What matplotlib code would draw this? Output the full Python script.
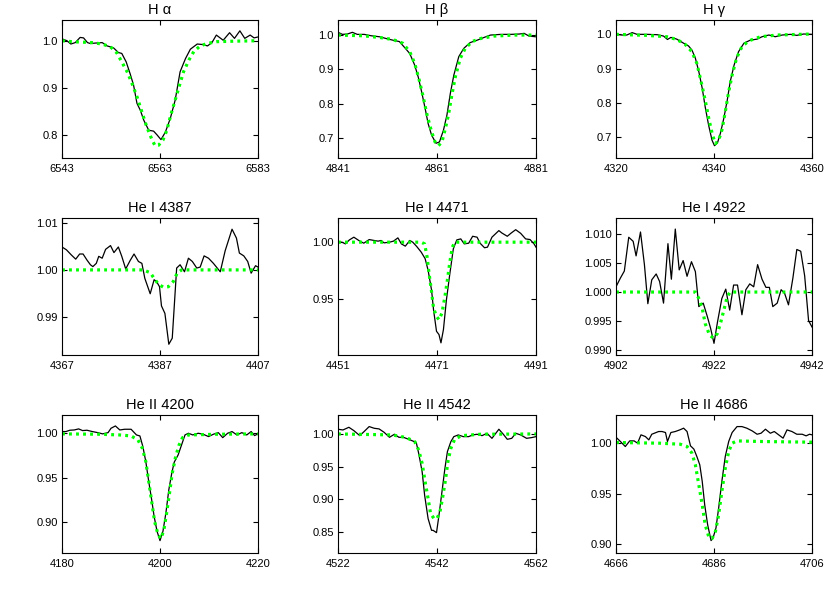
import matplotlib
matplotlib.use('Agg')
import matplotlib.pyplot as plt
from matplotlib.ticker import FormatStrFormatter

plt.rcParams['font.family'] = ['Liberation Sans', 'DejaVu Sans']

TITLES = ['H α', 'H β', 'H γ',
          'He I 4387', 'He I 4471', 'He I 4922',
          'He II 4200', 'He II 4542', 'He II 4686']
CENTERS = [6563, 4861, 4340, 4387, 4471, 4922, 4200, 4542, 4686]

ha_obs_x = [6543.0, 6544.0, 6544.8, 6545.7, 6546.7, 6547.4, 6548.2, 6548.8, 6549.8, 6551.2, 6552.2, 6553.5,
            6554.5, 6555.2, 6556.1, 6556.9, 6557.6, 6558.3, 6559.0, 6559.7, 6560.7, 6561.7, 6562.4, 6563.2,
            6564.1, 6565.1, 6566.1, 6567.1, 6568.2, 6569.2, 6570.6, 6571.6, 6572.7, 6573.6, 6574.5, 6575.9,
            6577.2, 6578.2, 6579.3, 6580.3, 6581.4, 6582.2, 6583.0]
ha_obs_y = [1.004, 1.000, 0.993, 0.996, 1.007, 1.006, 0.996, 0.994, 0.995, 0.996, 0.989, 0.985,
            0.975, 0.973, 0.955, 0.930, 0.906, 0.867, 0.852, 0.831, 0.810, 0.808, 0.800, 0.790,
            0.806, 0.835, 0.874, 0.934, 0.962, 0.982, 0.993, 0.992, 0.989, 0.996, 1.012, 1.001,
            1.017, 1.005, 1.021, 1.005, 1.012, 1.006, 1.008]
ha_mod_x = [6543.0, 6545.0, 6547.1, 6549.1, 6551.2, 6552.9, 6554.2, 6555.2, 6556.3, 6557.3, 6558.3, 6559.3,
            6560.3, 6561.4, 6562.0, 6562.7, 6563.6, 6564.4, 6565.2, 6566.1, 6567.0, 6567.8, 6568.9, 6569.9,
            6571.2, 6572.6, 6574.6, 6578.0, 6583.0]
ha_mod_y = [1.000, 0.998, 0.997, 0.996, 0.993, 0.987, 0.974, 0.955, 0.934, 0.909, 0.881, 0.849,
            0.817, 0.789, 0.777, 0.778, 0.789, 0.810, 0.842, 0.874, 0.906, 0.934, 0.959, 0.977,
            0.989, 0.994, 0.998, 0.999, 1.000]

hb_obs_x = [4841.0, 4841.9, 4842.9, 4843.9, 4844.9, 4846.3, 4847.7, 4849.4, 4850.7, 4852.1, 4853.4, 4854.5,
            4855.5, 4856.5, 4857.2, 4857.9, 4858.6, 4859.2, 4859.9, 4860.8, 4861.5, 4862.3, 4863.0, 4863.7,
            4864.4, 4865.4, 4866.4, 4867.7, 4869.1, 4870.5, 4871.8, 4873.9, 4875.9, 4877.6, 4878.6, 4879.6,
            4881.0]
hb_obs_y = [1.008, 1.002, 1.003, 1.008, 1.002, 1.002, 0.998, 0.995, 0.990, 0.985, 0.981, 0.963,
            0.946, 0.912, 0.878, 0.834, 0.786, 0.742, 0.708, 0.684, 0.688, 0.722, 0.766, 0.830,
            0.883, 0.937, 0.961, 0.978, 0.985, 0.993, 1.000, 1.002, 1.002, 1.003, 1.005, 0.997,
            0.995]
hb_mod_x = [4841.0, 4846.0, 4849.4, 4852.1, 4854.1, 4855.5, 4856.5, 4857.4, 4858.2, 4859.0, 4859.9, 4860.6,
            4861.3, 4862.0, 4862.6, 4863.3, 4864.0, 4864.7, 4865.7, 4866.7, 4868.1, 4869.8, 4872.5, 4876.6,
            4881.0]
hb_mod_y = [1.000, 0.998, 0.993, 0.987, 0.976, 0.951, 0.917, 0.869, 0.820, 0.766, 0.718, 0.688,
            0.677, 0.688, 0.722, 0.766, 0.825, 0.878, 0.932, 0.961, 0.981, 0.990, 0.997, 1.000,
            1.000]

hg_obs_x = [4320.0, 4321.2, 4322.2, 4323.3, 4324.3, 4326.3, 4328.4, 4329.7, 4330.5, 4331.2, 4332.4, 4333.8,
            4334.8, 4335.5, 4336.2, 4336.9, 4337.6, 4338.2, 4338.9, 4339.6, 4340.1, 4340.7, 4341.3, 4342.0,
            4342.7, 4343.3, 4344.1, 4345.0, 4346.1, 4347.4, 4348.8, 4349.8, 4351.2, 4352.5, 4353.9, 4355.6,
            4356.9, 4358.3, 4360.0]
hg_obs_y = [1.000, 0.998, 0.998, 1.005, 1.000, 1.000, 0.999, 0.995, 0.985, 0.991, 0.986, 0.974,
            0.966, 0.954, 0.930, 0.891, 0.842, 0.788, 0.734, 0.690, 0.674, 0.682, 0.710, 0.754,
            0.807, 0.861, 0.910, 0.949, 0.974, 0.983, 0.986, 0.993, 0.998, 0.993, 0.998, 1.000,
            0.997, 1.001, 1.000]
hg_mod_x = [4320.0, 4326.3, 4330.4, 4332.4, 4334.1, 4335.5, 4336.5, 4337.3, 4338.2, 4339.0, 4339.7, 4340.3,
            4340.95, 4341.6, 4342.3, 4343.0, 4343.7, 4344.6, 4345.7, 4347.1, 4349.5, 4352.9, 4360.0]
hg_mod_y = [1.000, 0.997, 0.993, 0.985, 0.971, 0.949, 0.915, 0.866, 0.807, 0.749, 0.705, 0.680,
            0.690, 0.719, 0.773, 0.832, 0.881, 0.930, 0.964, 0.981, 0.993, 0.998, 1.001]

he4387_obs_x = [4367.0, 4367.9, 4368.9, 4369.8, 4370.6, 4371.3, 4372.1, 4372.8, 4373.3, 4374.0, 4374.5, 4375.2,
                4375.9, 4376.9, 4377.6, 4378.5, 4379.2, 4380.0, 4380.9, 4381.7, 4382.6, 4383.3, 4383.9, 4385.0,
                4385.8, 4386.3, 4386.9, 4387.3, 4388.0, 4388.8, 4389.5, 4390.4, 4391.1, 4392.0, 4392.8, 4393.6,
                4394.5, 4395.2, 4396.0, 4396.9, 4397.9, 4399.3, 4400.3, 4401.7, 4402.6, 4403.2, 4404.1, 4404.9,
                4405.6, 4406.5, 4407.0]
he4387_obs_y = [1.0049, 1.0043, 1.0032, 1.0023, 1.0034, 1.0034, 1.0021, 1.0011, 1.0007, 1.0014, 1.0029, 1.0025,
                1.0044, 1.0052, 1.0037, 1.0049, 1.0029, 1.0002, 1.0020, 1.0034, 1.0018, 1.0014, 0.9982, 0.9949,
                0.9979, 0.9975, 0.9964, 0.9923, 0.9907, 0.9841, 0.9854, 1.0004, 1.0011, 0.9996, 1.0025, 1.0018,
                1.0004, 1.0006, 1.0030, 1.0025, 1.0014, 0.9996, 1.0041, 1.0087, 1.0068, 1.0036, 1.0030, 1.0018,
                0.9993, 1.0009, 1.0006]
he4387_mod_x = [4367.0, 4383.6, 4385.0, 4385.8, 4386.7, 4387.7, 4388.7, 4389.7, 4390.5, 4391.4, 4407.0]
he4387_mod_y = [1.0000, 1.0000, 0.9994, 0.9982, 0.9969, 0.9963, 0.9964, 0.9975, 0.9993, 1.0000, 1.0000]

he4471_obs_x = [4451.0, 4451.8, 4452.5, 4453.3, 4454.2, 4455.2, 4456.2, 4457.3, 4458.3, 4459.1, 4459.7, 4460.3,
                4461.4, 4462.2, 4463.1, 4463.8, 4464.6, 4465.5, 4466.1, 4466.9, 4467.8, 4468.6, 4469.2, 4469.9,
                4470.3, 4470.9, 4471.4, 4471.8, 4472.3, 4472.9, 4473.6, 4474.3, 4475.0, 4475.8, 4476.5, 4477.4,
                4478.2, 4479.1, 4479.7, 4480.6, 4481.2, 4482.1, 4483.5, 4484.1, 4485.2, 4486.0, 4486.9, 4487.9,
                4488.9, 4489.8, 4490.6, 4491.0]
he4471_obs_y = [1.0000, 1.0000, 0.9985, 1.0020, 1.0044, 1.0015, 0.9991, 1.0023, 1.0015, 1.0009, 1.0015, 0.9994,
                1.0000, 1.0009, 1.0038, 0.9985, 0.9965, 1.0015, 1.0000, 0.9962, 0.9913, 0.9855, 0.9753, 0.9578,
                0.9404, 0.9215, 0.9186, 0.9113, 0.9230, 0.9491, 0.9724, 0.9942, 1.0020, 1.0029, 0.9985, 0.9991,
                1.0052, 1.0044, 0.9991, 0.9951, 0.9956, 1.0044, 1.0102, 1.0081, 1.0052, 1.0081, 1.0110, 1.0078,
                1.0029, 1.0023, 0.9985, 0.9956]
he4471_mod_x = [4451.0, 4467.8, 4468.5, 4469.0, 4469.4, 4469.9, 4470.3, 4470.9, 4471.4, 4472.0, 4472.6, 4473.1,
                4473.6, 4474.1, 4474.6, 4491.0]
he4471_mod_y = [1.0000, 1.0000, 0.9985, 0.9869, 0.9724, 0.9564, 0.9419, 0.9346, 0.9317, 0.9375, 0.9520, 0.9666,
                0.9826, 0.9956, 1.0000, 1.0000]

he4922_obs_x = [4902.0, 4902.9, 4903.7, 4904.6, 4905.5, 4906.1, 4907.0, 4907.8, 4908.5, 4909.3, 4910.2, 4910.9,
                4911.7, 4912.6, 4913.3, 4914.1, 4914.9, 4915.7, 4916.5, 4917.4, 4918.2, 4918.9, 4919.8, 4920.6,
                4921.3, 4922.0, 4922.7, 4923.6, 4924.4, 4925.2, 4926.0, 4926.8, 4927.7, 4928.5, 4929.3, 4930.1,
                4930.9, 4931.8, 4932.6, 4933.3, 4934.0, 4934.9, 4935.7, 4936.4, 4937.2, 4938.1, 4938.9, 4939.7,
                4940.5, 4941.3, 4942.0]
he4922_obs_y = [1.0009, 1.0024, 1.0036, 1.0094, 1.0087, 1.0062, 1.0103, 1.0047, 0.9980, 1.0021, 1.0031, 1.0018,
                0.9981, 1.0083, 1.0022, 1.0108, 1.0038, 1.0054, 1.0027, 1.0052, 1.0035, 0.9975, 0.9981, 0.9959,
                0.9938, 0.9912, 0.9948, 0.9989, 1.0005, 0.9969, 1.0012, 1.0012, 0.9961, 1.0004, 1.0014, 1.0009,
                1.0047, 1.0022, 1.0008, 1.0008, 0.9975, 0.9981, 1.0004, 0.9998, 0.9978, 1.0024, 1.0073, 1.0070,
                1.0028, 0.9951, 0.9940]
he4922_mod_x = [4902.0, 4918.2, 4918.9, 4919.6, 4920.2, 4921.1, 4921.9, 4922.7, 4923.4, 4924.1, 4924.7, 4925.3,
                4942.0]
he4922_mod_y = [1.0000, 1.0000, 0.9989, 0.9972, 0.9946, 0.9926, 0.9921, 0.9929, 0.9949, 0.9972, 0.9992, 1.0000,
                1.0000]

he4200_obs_x = [4180.0, 4180.8, 4181.6, 4182.5, 4183.4, 4184.2, 4185.1, 4186.2, 4187.3, 4188.3, 4189.4, 4190.0,
                4190.9, 4191.8, 4192.8, 4194.1, 4195.2, 4195.9, 4196.5, 4197.1, 4197.7, 4198.3, 4198.8, 4199.4,
                4200.0, 4200.6, 4201.2, 4201.8, 4202.4, 4202.9, 4203.7, 4204.4, 4205.1, 4205.8, 4206.7, 4207.8,
                4208.8, 4209.9, 4210.9, 4211.9, 4212.8, 4213.8, 4214.7, 4215.7, 4216.7, 4217.7, 4218.6, 4219.3,
                4220.0]
he4200_obs_y = [1.0019, 1.0019, 1.0034, 1.0037, 1.0049, 1.0030, 1.0034, 1.0019, 1.0007, 0.9993, 1.0007, 1.0056,
                1.0082, 1.0037, 1.0045, 1.0045, 0.9981, 0.9970, 0.9851, 0.9683, 0.9459, 0.9254, 0.9067, 0.8899,
                0.8795, 0.8899, 0.9104, 0.9366, 0.9552, 0.9675, 0.9757, 0.9869, 0.9981, 1.0000, 0.9981, 1.0000,
                0.9989, 0.9963, 0.9989, 1.0007, 0.9951, 1.0000, 1.0019, 0.9981, 1.0007, 0.9981, 1.0019, 0.9974,
                0.9993]
he4200_mod_x = [4180.0, 4187.7, 4191.8, 4194.1, 4195.5, 4196.4, 4197.1, 4197.7, 4198.3, 4198.9, 4199.6, 4200.2,
                4200.8, 4201.3, 4201.9, 4202.5, 4203.2, 4203.9, 4204.6, 4205.8, 4211.6, 4220.0]
he4200_mod_y = [0.9993, 0.9989, 0.9981, 0.9970, 0.9925, 0.9832, 0.9683, 0.9459, 0.9235, 0.9011, 0.8862, 0.8817,
                0.8918, 0.9086, 0.9310, 0.9552, 0.9739, 0.9869, 0.9951, 0.9981, 0.9989, 0.9993]

he4542_obs_x = [4522.0, 4523.0, 4524.2, 4525.2, 4526.4, 4527.4, 4528.3, 4529.3, 4530.3, 4531.3, 4532.4, 4533.4,
                4534.3, 4535.2, 4536.3, 4537.1, 4537.8, 4538.3, 4539.0, 4539.5, 4540.2, 4540.9, 4541.2, 4541.9,
                4542.4, 4543.0, 4543.6, 4544.1, 4544.8, 4545.4, 4546.3, 4547.3, 4548.4, 4549.2, 4550.1, 4551.1,
                4552.1, 4553.1, 4554.5, 4555.4, 4556.2, 4557.1, 4557.9, 4558.9, 4560.1, 4561.1, 4562.0]
he4542_obs_y = [1.0072, 1.0061, 1.0102, 1.0051, 0.9974, 1.0046, 1.0113, 1.0087, 1.0077, 1.0026, 0.9949, 0.9995,
                0.9949, 0.9949, 0.9918, 0.9892, 0.9872, 0.9703, 0.9421, 0.9063, 0.8705, 0.8525, 0.8525, 0.8490,
                0.8756, 0.9114, 0.9473, 0.9729, 0.9882, 0.9959, 0.9985, 0.9959, 0.9959, 0.9985, 0.9995, 0.9974,
                1.0010, 0.9933, 1.0072, 0.9995, 0.9918, 0.9933, 1.0010, 0.9985, 0.9933, 0.9944, 0.9959]
he4542_mod_x = [4522.0, 4533.0, 4535.8, 4537.5, 4538.3, 4539.0, 4539.6, 4540.2, 4540.7, 4541.4, 4542.0, 4542.6,
                4543.1, 4543.7, 4544.2, 4544.8, 4545.6, 4547.0, 4550.7, 4562.0]
he4542_mod_y = [1.0000, 0.9985, 0.9944, 0.9882, 0.9754, 0.9549, 0.9268, 0.9012, 0.8781, 0.8705, 0.8705, 0.8807,
                0.9012, 0.9293, 0.9575, 0.9780, 0.9923, 0.9974, 0.9995, 1.0000]

he4686_obs_x = [4666.0, 4666.9, 4667.9, 4668.8, 4669.7, 4670.4, 4671.1, 4672.0, 4672.7, 4673.3, 4674.7, 4675.4,
                4676.1, 4676.5, 4677.2, 4678.1, 4679.0, 4679.8, 4680.5, 4681.2, 4681.9, 4682.5, 4683.1, 4683.6,
                4684.1, 4684.7, 4685.4, 4685.8, 4686.4, 4686.95, 4687.6, 4688.3, 4689.0, 4689.7, 4690.7, 4691.7,
                4692.7, 4693.8, 4694.8, 4695.6, 4696.5, 4697.5, 4698.3, 4699.2, 4700.1, 4700.9, 4701.9, 4702.9,
                4704.0, 4704.8, 4705.5, 4706.0]
he4686_obs_y = [1.0059, 1.0017, 0.9967, 1.0023, 1.0023, 1.0000, 1.0083, 1.0066, 1.0033, 1.0089, 1.0116, 1.0116,
                1.0106, 1.0017, 1.0106, 1.0116, 1.0132, 1.0149, 1.0116, 0.9974, 0.9941, 0.9868, 0.9785, 0.9620,
                0.9389, 0.9191, 0.9033, 0.9059, 0.9158, 0.9356, 0.9620, 0.9868, 1.0017, 1.0106, 1.0165, 1.0165,
                1.0149, 1.0122, 1.0089, 1.0099, 1.0139, 1.0099, 1.0116, 1.0083, 1.0050, 1.0132, 1.0116, 1.0089,
                1.0089, 1.0073, 1.0089, 1.0083]
he4686_mod_x = [4666.0, 4675.0, 4679.1, 4680.5, 4681.5, 4682.2, 4682.9, 4683.6, 4684.2, 4684.9, 4685.6, 4686.3,
                4686.95, 4687.6, 4688.3, 4689.0, 4689.7, 4690.7, 4695.5, 4706.0]
he4686_mod_y = [1.0007, 1.0000, 0.9990, 0.9967, 0.9901, 0.9785, 0.9587, 0.9389, 0.9191, 0.9076, 0.9053, 0.9125,
                0.9290, 0.9521, 0.9752, 0.9917, 1.0000, 1.0023, 1.0017, 1.0010]

OBS = [(ha_obs_x, ha_obs_y), (hb_obs_x, hb_obs_y), (hg_obs_x, hg_obs_y),
       (he4387_obs_x, he4387_obs_y), (he4471_obs_x, he4471_obs_y), (he4922_obs_x, he4922_obs_y),
       (he4200_obs_x, he4200_obs_y), (he4542_obs_x, he4542_obs_y), (he4686_obs_x, he4686_obs_y)]
MOD = [(ha_mod_x, ha_mod_y), (hb_mod_x, hb_mod_y), (hg_mod_x, hg_mod_y),
       (he4387_mod_x, he4387_mod_y), (he4471_mod_x, he4471_mod_y), (he4922_mod_x, he4922_mod_y),
       (he4200_mod_x, he4200_mod_y), (he4542_mod_x, he4542_mod_y), (he4686_mod_x, he4686_mod_y)]

YLIMS = [(0.751, 1.044), (0.641, 1.044), (0.638, 1.042),
         (0.9818, 1.0111), (0.9006, 1.0213), (0.9892, 1.0127),
         (0.8656, 1.0205), (0.8178, 1.029), (0.891, 1.028)]
YTICKS = [[0.8, 0.9, 1.0], [0.7, 0.8, 0.9, 1.0], [0.7, 0.8, 0.9, 1.0],
          [0.99, 1.00, 1.01], [0.95, 1.00], [0.990, 0.995, 1.000, 1.005, 1.010],
          [0.90, 0.95, 1.00], [0.85, 0.90, 0.95, 1.00], [0.90, 0.95, 1.00]]
YFMT = ['%.1f', '%.1f', '%.1f', '%.2f', '%.2f', '%.3f', '%.2f', '%.2f', '%.2f']

fig = plt.figure(figsize=(8.3, 5.93), dpi=100)
lefts = [62 / 830, 338 / 830, 616 / 830]
widths = [196 / 830, 198 / 830, 196 / 830]
bottoms = [1 - 158 / 593, 1 - 355 / 593, 1 - 553 / 593]
heights = [138 / 593, 137 / 593, 138 / 593]

for i in range(9):
    r, c = divmod(i, 3)
    ax = fig.add_axes([lefts[c], bottoms[r], widths[c], heights[r]])
    ox, oy = OBS[i]
    mx, my = MOD[i]
    ax.plot(ox, oy, color='black', lw=0.9)
    ax.plot(mx, my, color='#00ff00', lw=2.3, linestyle=(0, (0.9, 1.3)))
    cen = CENTERS[i]
    ax.set_xlim(cen - 20, cen + 20)
    ax.set_xticks([cen - 20, cen, cen + 20])
    ax.set_ylim(*YLIMS[i])
    ax.set_yticks(YTICKS[i])
    ax.yaxis.set_major_formatter(FormatStrFormatter(YFMT[i]))
    ax.tick_params(direction='in', top=True, right=True, length=3.5, width=0.8,
                   labelsize=8, pad=4)
    ax.tick_params(axis='y', pad=3)
    for s in ax.spines.values():
        s.set_linewidth(0.8)
    ax.set_title(TITLES[i], fontsize=10.5, pad=4)

fig.savefig('out.png', dpi=100)
